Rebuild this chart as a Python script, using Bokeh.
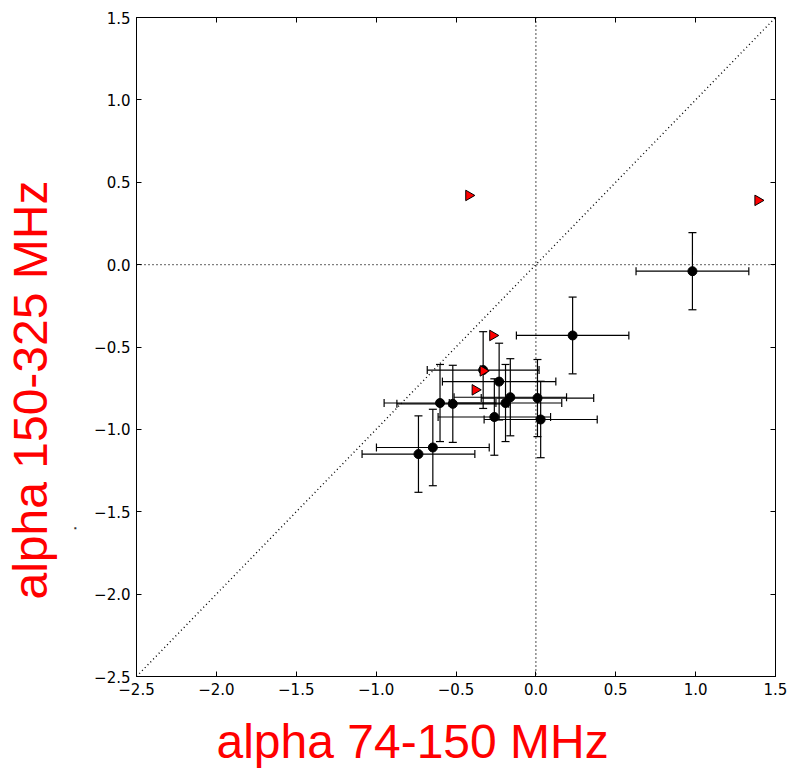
import math
from bokeh.plotting import figure
from bokeh.models import (ColumnDataSource, Range1d, FixedTicker, LinearAxis, Whisker,
                          TeeHead, Span, Slope, Title)
from bokeh.embed import file_html
from bokeh.resources import INLINE

# --- data ---
alpha_low = [0.98, 0.23, -0.33, -0.23, -0.60, -0.52, -0.19, -0.16, 0.01, -0.26, 0.03, -0.645, -0.735]
alpha_high = [-0.04, -0.43, -0.64, -0.71, -0.84, -0.845, -0.84, -0.805, -0.81, -0.925, -0.94, -1.11, -1.15]
err_low = [0.353, 0.352, 0.35, 0.355, 0.35, 0.35, 0.352, 0.352, 0.352, 0.352, 0.354, 0.353, 0.353]
err_high = [0.234, 0.233, 0.233, 0.233, 0.234, 0.234, 0.234, 0.234, 0.234, 0.232, 0.232, 0.232, 0.232]

limit_low = [-0.42, 1.39, -0.27, -0.33, -0.38]
limit_high = [0.42, 0.39, -0.43, -0.645, -0.76]

ticks = [-2.5, -2.0, -1.5, -1.0, -0.5, 0.0, 0.5, 1.0, 1.5]
tick_labels = ["\u22122.5", "\u22122.0", "\u22121.5", "\u22121.0", "\u22120.5", "0.0", "0.5", "1.0", "1.5"]

x_title = "alpha 74-150 MHz"
y_title = "alpha 150-325 MHz"

src = ColumnDataSource(dict(
    x=alpha_low, y=alpha_high,
    xl=[a - e for a, e in zip(alpha_low, err_low)],
    xr=[a + e for a, e in zip(alpha_low, err_low)],
    yl=[a - e for a, e in zip(alpha_high, err_high)],
    yu=[a + e for a, e in zip(alpha_high, err_high)],
))
lim_src = ColumnDataSource(dict(x=limit_low, y=limit_high))

p = figure(frame_width=639, frame_height=659, x_range=Range1d(-2.5, 1.5), y_range=Range1d(-2.5, 1.5),
           output_backend="svg", toolbar_location=None,
           min_border_left=135, min_border_right=22, min_border_top=17, min_border_bottom=94,
           x_axis_type=None, y_axis_type=None)
p.xgrid.visible = False
p.ygrid.visible = False
p.outline_line_color = "black"
p.outline_line_width = 1
p.background_fill_color = "white"
p.border_fill_color = "white"

def make_axis(show_labels):
    if show_labels:
        overrides = {t: l for t, l in zip(ticks, tick_labels)}
    else:
        overrides = {t: "" for t in ticks}
    ax = LinearAxis(ticker=FixedTicker(ticks=ticks), major_label_overrides=overrides)
    ax.major_tick_in = 5
    ax.major_tick_out = 0
    ax.minor_tick_line_color = None
    ax.axis_line_color = "black"
    ax.major_tick_line_color = "black"
    ax.major_label_text_font = "DejaVu Sans"
    ax.major_label_text_color = "black"
    if show_labels:
        ax.major_label_text_font_size = "15px"
        ax.major_label_standoff = 6
    else:
        ax.major_label_text_font_size = "2px"
        ax.major_label_standoff = 0
    return ax

p.add_layout(make_axis(True), "below")
p.add_layout(make_axis(True), "left")
p.add_layout(make_axis(False), "above")
p.add_layout(make_axis(False), "right")

# reference lines
p.add_layout(Slope(gradient=1, y_intercept=0, line_color="black", line_width=1.4, line_dash="1 3"))
p.add_layout(Span(location=0, dimension="height", line_color="black", line_width=1.4, line_dash="1 3"))
p.add_layout(Span(location=0, dimension="width", line_color="black", line_width=1.4, line_dash="1 3"))

# error bars
p.add_layout(Whisker(source=src, base="y", lower="xl", upper="xr", dimension="width",
                     line_color="black", line_width=1.2,
                     lower_head=TeeHead(size=8, line_color="black", line_width=1.2),
                     upper_head=TeeHead(size=8, line_color="black", line_width=1.2)))
p.add_layout(Whisker(source=src, base="x", lower="yl", upper="yu", dimension="height",
                     line_color="black", line_width=1.2,
                     lower_head=TeeHead(size=8, line_color="black", line_width=1.2),
                     upper_head=TeeHead(size=8, line_color="black", line_width=1.2)))

p.scatter("x", "y", source=src, marker="circle", size=9, fill_color="black", line_color="black")
p.scatter("x", "y", source=lim_src, marker="triangle", size=10.5, angle=-math.pi / 2,
          fill_color="#ff0000", line_color="black", line_width=1)

# axis titles as side titles, shifted like the reference
p.add_layout(Title(text=x_title, align="left", offset=80, standoff=31,
                   text_font="Liberation Sans", text_font_size="48px", text_font_style="normal",
                   text_color="#ff0000"), "below")
p.add_layout(Title(text="\u25a0", align="left", offset=147, standoff=28,
                   text_font="DejaVu Sans", text_font_size="2.6px", text_font_style="normal",
                   text_color="#333333"), "left")
p.add_layout(Title(text=y_title, align="left", offset=77, standoff=3,
                   text_font="Liberation Sans", text_font_size="48px", text_font_style="normal",
                   text_color="#ff0000"), "left")

open("out.html", "w").write(file_html(p, INLINE))
